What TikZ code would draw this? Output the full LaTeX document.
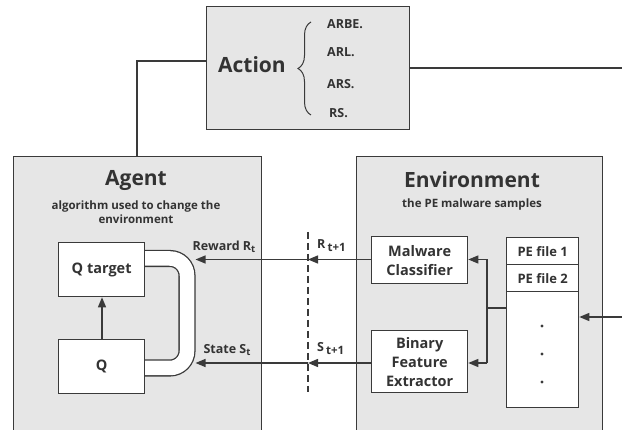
\documentclass[tikz,border=0pt]{standalone}
\usepackage{fontspec}
\setmainfont{Open Sans}
\usetikzlibrary{arrows.meta,decorations.pathreplacing}
\definecolor{edge}{HTML}{3A3A3A}
\definecolor{ink}{HTML}{333333}
\definecolor{panel}{HTML}{E6E6E6}
\newcommand{\lowidx}[1]{\,\raisebox{-3.5pt}{\fontsize{11.5}{12}\selectfont #1}}
\newcommand{\smidx}[1]{\raisebox{-2.5pt}{\fontsize{9.5}{10}\selectfont #1}}
\tikzset{
  panelbox/.style={draw=edge, line width=1.3pt, fill=panel},
  whitebox/.style={draw=edge, line width=1.3pt, fill=white},
  link/.style={draw=edge, line width=1.3pt},
  arr/.style={link, -{Triangle[length=10pt,width=8pt]}},
  lbl/.style={text=ink, font=\bfseries\fontsize{12.5}{14}\selectfont, inner sep=0pt},
  actitem/.style={text=ink, font=\bfseries\fontsize{12.5}{14}\selectfont, inner sep=0pt, anchor=west},
  boxtxt/.style={text=ink, font=\bfseries\fontsize{14.5}{19}\selectfont, align=center},
  titletxt/.style={text=ink, font=\bfseries\fontsize{21}{24}\selectfont},
}
\begin{document}
\begin{tikzpicture}[x=1pt,y=-1pt]
\useasboundingbox (0,0) rectangle (622,430);
\clip (0,0) rectangle (622,430);
\fill[white] (0,0) rectangle (622,430);

% links from the action panel
\coordinate (abend) at (137,61);
\coordinate (aright) at (622,68);

% panels
\node[panelbox, minimum width=203pt, minimum height=123pt, anchor=north west] (action) at (206,6) {};
\node[panelbox, minimum width=248pt, minimum height=300pt, anchor=north west] (agent) at (13,156) {};
\node[panelbox, minimum width=246pt, minimum height=300pt, anchor=north west] (env) at (356,156) {};

\draw[link] (action.west |- 0,61) -- (abend) -- (abend |- agent.north);
\draw[link] (action.east |- 0,68) -- (aright);

% action panel contents
\node[titletxt] (acttitle) at (252,65) {Action};
\draw[edge, line width=1pt, decorate, decoration={brace, amplitude=13pt}] (311,115) -- (311,22);
\node[actitem] (a1) at (327,24) {ARBE.};
\node[actitem] (a2) at (327,52) {ARL.};
\node[actitem] (a3) at (327,84) {ARS.};
\node[actitem] (a4) at (329,113) {RS.};

% agent panel contents
\node[titletxt] (agtitle) at (136,180) {Agent};
\node[text=ink, font=\bfseries\fontsize{11.5}{14}\selectfont, align=center] (agsub) at (136,212) {algorithm used to change the\\environment};

% feedback pipe between the two Q boxes
\draw[edge, line width=1.3pt, double=white, double distance=14.5pt, rounded corners=17pt]
  (140,258.5) -- (187,258.5) -- (187,368) -- (140,368);

\node[whitebox, boxtxt, minimum width=86pt, minimum height=54pt, anchor=north west] (qt) at (58,242) {Q target};
\node[whitebox, boxtxt, minimum width=86pt, minimum height=54pt, anchor=north west] (q) at (58,339) {Q};
\draw[arr] (q.north -| 102,0) -- (qt.south -| 102,0);

% environment panel contents
\node[titletxt] (envtitle) at (472,180) {Environment};
\node[text=ink, font=\bfseries\fontsize{11.5}{14}\selectfont] (envsub) at (472,205) {the PE malware samples};

\node[whitebox, boxtxt, minimum width=96pt, minimum height=47pt, anchor=north west, inner sep=0pt] (mc) at (371,236) {Malware\\Classifier};
\node[whitebox, boxtxt, minimum width=96pt, minimum height=62pt, anchor=north west, inner sep=0pt] (bfe) at (371,330) {Binary\\Feature\\Extractor};

% stack of PE files
\node[whitebox, minimum width=72pt, minimum height=170pt, anchor=north west, inner sep=0pt] (stack) at (506,237) {};
\node[whitebox, boxtxt, minimum width=72pt, minimum height=27pt, anchor=north west, inner sep=0pt, font=\bfseries\fontsize{13}{14}\selectfont] (pe1) at (506,237) {PE file 1};
\node[whitebox, boxtxt, minimum width=72pt, minimum height=27pt, anchor=north west, inner sep=0pt, font=\bfseries\fontsize{13}{14}\selectfont] (pe2) at (506,264) {PE file 2};
\foreach \yy/\nm in {326/d1,354/d2,382/d3}
  \fill[edge] (542,\yy) circle (1.6pt) coordinate (\nm);

% dashed cut between agent and environment
\coordinate (cuttop) at (308,232);
\coordinate (cutbot) at (308,392);
\draw[edge, line width=1.2pt, dash pattern=on 7pt off 4pt] (cuttop) -- (cutbot);

% reward and state signals
\coordinate (rcut) at (308,259.5);
\coordinate (scut) at (308,363);
\draw[arr] (mc.west |- rcut) -- (rcut);
\draw[arr] (rcut) -- (195.5,259.5) coordinate (rin);
\draw[arr] (bfe.west |- scut) -- (scut);
\draw[arr] (scut) -- (195.5,363) coordinate (sin);
\node[lbl, anchor=south] (rlab) at (224,253) {Reward R\smidx{t}};
\node[lbl, anchor=south] (slab) at (227,356) {State S\smidx{t}};
\node[lbl, anchor=south west] (r1lab) at (317,252) {R\lowidx{t+1}};
\node[lbl, anchor=south west] (s1lab) at (317,355) {S\lowidx{t+1}};

% samples fan out to classifier and extractor
\coordinate (fork) at (487,308);
\draw[edge, line width=2.2pt] (stack.west |- fork) -- (fork);
\draw[link] (487,259.5) -- (487,363);
\draw[arr] (487,259.5) -- (mc.east |- 0,259.5);
\draw[arr] (487,363) -- (bfe.east |- 0,363);

% incoming samples
\coordinate (inflow) at (622,317);
\draw[arr] (inflow) -- (stack.east |- inflow);
\end{tikzpicture}
\end{document}
